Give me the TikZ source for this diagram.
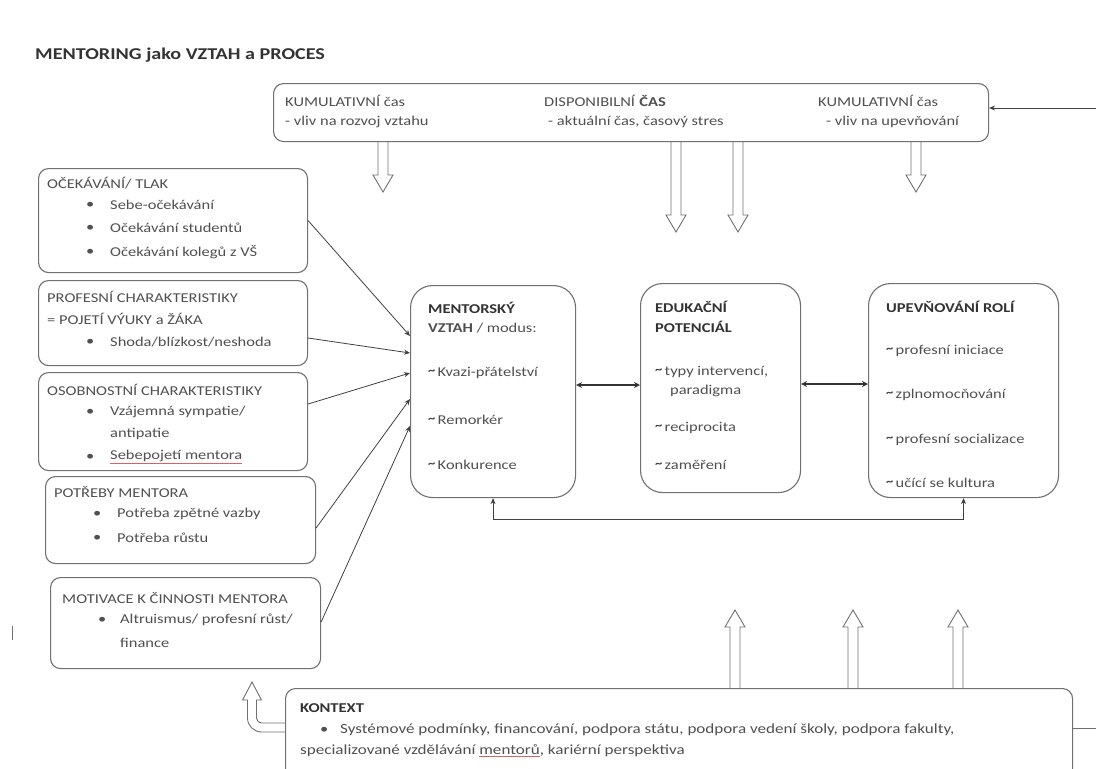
\documentclass[tikz,border=0pt]{standalone}
\usepackage{fontspec}
\setmainfont[FakeStretch=1.22]{Carlito}
\usetikzlibrary{arrows.meta}
\definecolor{ink}{HTML}{505050}
\definecolor{edge}{HTML}{707070}
\definecolor{squiggle}{HTML}{E06060}

% hollow block arrow: x, base y, tip y
\newcommand\blockarrow[3]{%
  \pgfmathsetmacro\bdir{sign(#3-#2)}%
  \pgfmathsetmacro\bneck{#3-17*\bdir}%
  \draw[harrow] (#1-5,#2) -- (#1-5,\bneck) -- (#1-10,\bneck) -- (#1,#3)
    -- (#1+10,\bneck) -- (#1+5,\bneck) -- (#1+5,#2);%
}
\newcommand\tld{\raisebox{0.3ex}{\fontsize{12}{12}\selectfont\bfseries\textcolor{black!75}{\textasciitilde}}\,}
\newcommand\bul{\textbullet}
\newcommand\misspelt[1]{{\color{squiggle}\underline{{\color{ink}#1}}}}

\begin{document}
\begin{tikzpicture}[x=1pt,y=-1pt,
  box/.style={draw=edge, line width=1.1pt, rounded corners=10pt, fill=white,
    inner sep=0pt, anchor=north west},
  bigbox/.style={box, rounded corners=22pt},
  txt/.style={anchor=west, inner sep=0pt, text=ink, font=\fontsize{13.5}{15}\selectfont},
  hd/.style={txt, font=\fontsize{13.5}{15}\selectfont\bfseries, text=black!80},
  harrow/.style={draw=edge, line width=0.9pt, fill=white},
  conn/.style={draw=black!75, line width=0.8pt, -{Stealth[length=6pt,width=5pt]}},
  dconn/.style={draw=black!80, line width=2pt,
    {Stealth[length=6pt,width=6pt]}-{Stealth[length=6pt,width=6pt]}},
  uconn/.style={draw=black!75, line width=0.8pt,
    {Stealth[length=6pt,width=5pt]}-{Stealth[length=6pt,width=5pt]}}
]
\useasboundingbox (0,0) rectangle (1096,769);

% title
\node[hd, font=\fontsize{16.5}{18}\selectfont\bfseries] (title) at (35,55) {MENTORING jako VZTAH a PROCES};

% time box and arrows hanging from it
\blockarrow{383}{141}{192}
\blockarrow{676}{141}{232}
\blockarrow{738}{141}{232}
\blockarrow{916}{141}{192}
\node[box, minimum width=715pt, minimum height=58pt] (time) at (273,83) {};
\node[txt] (t1a) at (285,101) {KUMULATIVNÍ čas};
\node[txt] (t1b) at (285,122) {- vliv na rozvoj vztahu};
\node[txt] (t2a) at (544,101) {DISPONIBILNÍ \textbf{ČAS}};
\node[txt] (t2b) at (548,122) {- aktuální čas, časový stres};
\node[txt] (t3a) at (818,101) {KUMULATIVNÍ čas};
\node[txt] (t3b) at (826,122) {- vliv na upevňování};
\coordinate (tin) at (1096,108);
\draw[conn] (tin) -- (tin -| time.east);

% influencing factors
\node[box, minimum width=269pt, minimum height=104pt] (b1) at (38,168) {};
\node[txt] at (47,183) {OČEKÁVÁNÍ/ TLAK};
\node[txt] at (86,205) {\bul};
\node[txt] at (110,205) {Sebe-očekávání};
\node[txt] at (86,228) {\bul};
\node[txt] at (110,228) {Očekávání studentů};
\node[txt] at (86,252) {\bul};
\node[txt] at (110,252) {Očekávání kolegů z VŠ};

\node[box, minimum width=269pt, minimum height=85pt] (b2) at (38,280) {};
\node[txt] at (47,297) {PROFESNÍ CHARAKTERISTIKY};
\node[txt] at (47,319) {= POJETÍ VÝUKY a ŽÁKA};
\node[txt] at (86,342) {\bul};
\node[txt] at (110,342) {Shoda/blízkost/neshoda};

\node[box, minimum width=269pt, minimum height=98pt] (b3) at (38,372) {};
\node[txt] at (47,390) {OSOBNOSTNÍ CHARAKTERISTIKY};
\node[txt] at (86,412) {\bul};
\node[txt] at (110,412) {Vzájemná sympatie/};
\node[txt] at (110,434) {antipatie};
\node[txt] at (86,457) {\bul};
\node[txt] (sebe) at (110,457) {\misspelt{Sebepojetí mentora}};

\node[box, minimum width=270pt, minimum height=87pt] (b4) at (45,476) {};
\node[txt] at (54,492) {POTŘEBY MENTORA};
\node[txt] at (93,514) {\bul};
\node[txt] at (117,514) {Potřeba zpětné vazby};
\node[txt] at (93,538) {\bul};
\node[txt] at (117,538) {Potřeba růstu};

\node[box, minimum width=270pt, minimum height=91pt] (b5) at (50,577) {};
\node[txt] at (62,598) {MOTIVACE K ČINNOSTI MENTORA};
\node[txt] at (98,620) {\bul};
\node[txt] at (120,620) {Altruismus/ profesní růst/};
\node[txt] at (120,643) {finance};

\draw[edge, line width=1pt] (12,626) -- (12,640);

% core process boxes
\node[bigbox, minimum width=165pt, minimum height=212pt] (ment) at (410,285) {};
\node[hd] at (428,308) {MENTORSKÝ};
\node[txt] at (428,328) {\textbf{VZTAH} / modus:};
\node[txt] at (428,373) {\tld Kvazi-přátelství};
\node[txt] at (428,420) {\tld Remorkér};
\node[txt] at (428,465) {\tld Konkurence};

\node[bigbox, minimum width=160pt, minimum height=209pt] (edu) at (640,283) {};
\node[hd] at (655,307) {EDUKAČNÍ};
\node[hd] at (655,327) {POTENCIÁL};
\node[txt] at (655,372) {\tld typy intervencí,};
\node[txt] at (670,391) {paradigma};
\node[txt] at (655,428) {\tld reciprocita};
\node[txt] at (655,465) {\tld zaměření};

\node[bigbox, minimum width=190pt, minimum height=214pt] (upev) at (868,283) {};
\node[hd] at (886,307) {UPEVŇOVÁNÍ ROLÍ};
\node[txt] at (886,351) {\tld profesní iniciace};
\node[txt] at (886,395) {\tld zplnomocňování};
\node[txt] at (886,440) {\tld profesní socializace};
\node[txt] at (886,483) {\tld učící se kultura};

% factor links into the relationship
\draw[conn] (b1.east) -- (ment.west |- 0,336);
\draw[conn] (b2.east |- 0,338) -- (ment.west |- 0,353);
\draw[conn] (b3.east |- 0,404) -- (ment.west |- 0,373);
\draw[conn] (b4.east |- 0,528) -- (ment.west |- 0,399);
\draw[conn] (b5.east |- 0,622) -- (ment.west |- 0,426);

% links between the process boxes
\draw[dconn] (ment.east |- 0,385) -- (edu.west |- 0,385);
\draw[dconn] (edu.east |- 0,384) -- (upev.west |- 0,384);
\draw[uconn] (ment.south) -- ++(0,21) -| (upev.south);

% context box and its influence arrows
\blockarrow{735}{688}{610}
\blockarrow{853}{688}{610}
\blockarrow{958}{688}{610}
\draw[harrow] (292,723) -- (261.5,723) arc[start angle=90, end angle=180, radius=5]
  -- (256.5,700) -- (261.5,700) -- (252,682) -- (242.5,700) -- (247.5,700)
  -- (247.5,718) arc[start angle=180, end angle=90, radius=14] -- (292,732) -- cycle;
\node[box, minimum width=787pt, minimum height=95pt] (kctx) at (285,688) {};
\node[hd] at (300,708) {KONTEXT};
\node[txt] at (320,730) {\bul};
\node[txt, font=\fontsize{14}{15}\selectfont] at (340,730) {Systémové podmínky, financování, podpora státu, podpora vedení školy, podpora fakulty,};
\node[txt, font=\fontsize{14}{15}\selectfont] (k2) at (300,751) {specializované vzdělávání \misspelt{mentorů}, kariérní perspektiva};
\coordinate (kout) at (1096,728);
\draw[edge, line width=1pt] (kctx.east |- kout) -- (kout);
\end{tikzpicture}
\end{document}
